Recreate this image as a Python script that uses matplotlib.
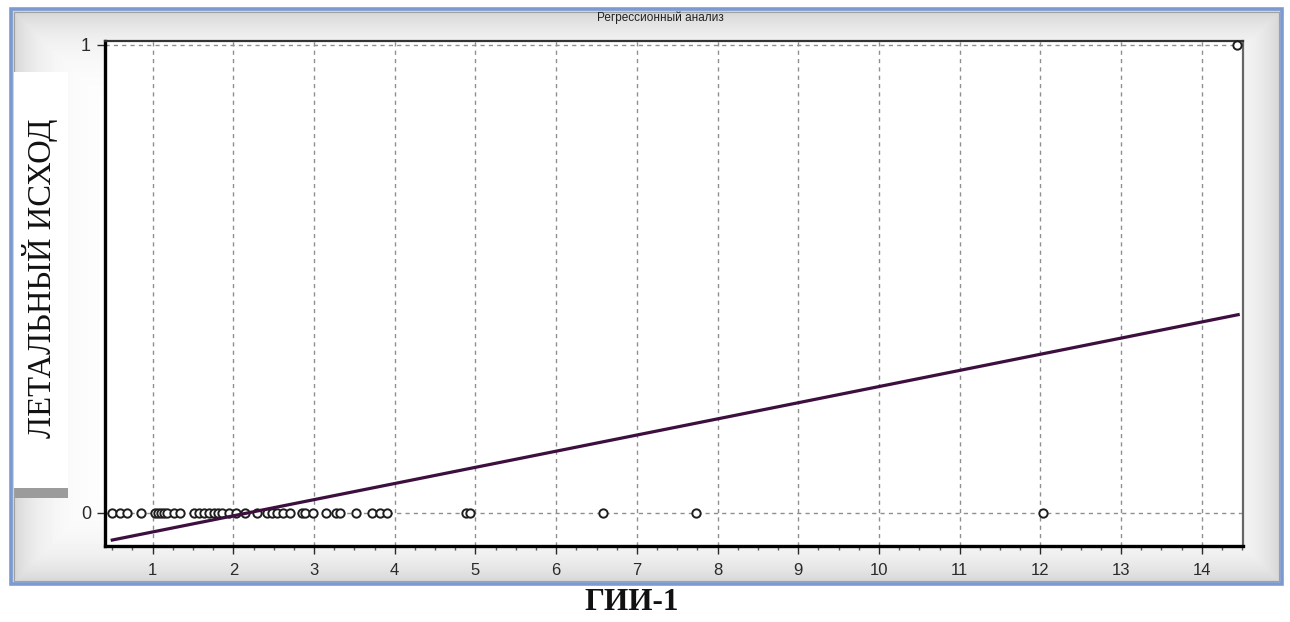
import numpy as np
import matplotlib
matplotlib.use("Agg")
import matplotlib.pyplot as plt
from matplotlib.patches import Rectangle
from matplotlib.ticker import MultipleLocator

# observations: ГИИ-1 value and outcome (0 = survived, 1 = lethal)
gii = [0.50, 0.59, 0.68, 0.86, 1.03, 1.07, 1.10, 1.14, 1.18, 1.26, 1.34,
       1.51, 1.57, 1.64, 1.70, 1.76, 1.81, 1.86, 1.95, 2.03, 2.14, 2.29,
       2.42, 2.48, 2.54, 2.61, 2.70, 2.85, 2.89, 2.99, 3.15, 3.27, 3.32,
       3.52, 3.72, 3.82, 3.90, 4.88, 4.93, 6.58, 7.73, 12.03, 14.44]
outcome = [0] * 42 + [1]

# fitted regression line
intercept = -0.075
slope = 0.0345
line_x = [0.5, 14.45]

W, H = 1290, 622
fig = plt.figure(figsize=(W / 100, H / 100), dpi=100)
fig.patch.set_facecolor("white")

# background panel with soft grey edges
bg = fig.add_axes([0, 0, 1, 1])
bg.set_xlim(0, W)
bg.set_ylim(H, 0)
bg.axis("off")
px0, py0, px1, py1 = 11, 9, 1282, 584
yy, xx = np.mgrid[py0:py1, px0:px1]
d = np.minimum.reduce([xx - px0, px1 - xx, yy - py0, py1 - yy]).astype(float)
shade = 1 - 0.18 * np.exp(-d / 28.0)
bg.imshow(shade, cmap="gray", vmin=0, vmax=1, extent=(px0, px1, py1, py0),
          aspect="auto", interpolation="bilinear")
bg.add_patch(Rectangle((px0, py0), px1 - px0, py1 - py0, fill=False,
                       edgecolor="#7c9ad2", lw=2.6))
bg.add_patch(Rectangle((px0 + 3, py0 + 3), px1 - px0 - 6, py1 - py0 - 6,
                       fill=False, edgecolor="#a0a0a0", lw=0.8))
# white strip behind the vertical label
bg.add_patch(Rectangle((14, 72), 54, 416, facecolor="white", edgecolor="none"))
bg.add_patch(Rectangle((15, 488), 53, 10, facecolor="#9b9b9b", edgecolor="none"))
bg.text(660, 18, "Регрессионный анализ", ha="center", va="center",
        fontsize=8.5, family="Liberation Sans", color="#222222")
bg.text(40, 278, "ЛЕТАЛЬНЫЙ ИСХОД", rotation=90, ha="center", va="center",
        fontsize=23.5, family="Liberation Serif", color="#111111")
bg.text(632, 603, "ГИИ-1", ha="center", va="center", fontsize=22.5,
        family="Liberation Serif", weight="bold", color="#111111")

# regression plot
ax = fig.add_axes([105 / W, 1 - 546 / H, (1243 - 105) / W, (546 - 41) / H])
ax.set_facecolor("white")
ax.set_xlim(0.41, 14.51)
ax.set_ylim(-0.0705, 1.008)

ax.scatter(gii, outcome, s=36, facecolors="white", edgecolors="#1e1e1e",
           linewidths=1.4, zorder=3, clip_on=False)
lx = np.array(line_x)
ax.plot(lx, intercept + slope * lx, color="#3d0f3f", lw=2.3, zorder=4)

ax.xaxis.set_major_locator(MultipleLocator(1))
ax.xaxis.set_minor_locator(MultipleLocator(0.25))
ax.set_yticks([0, 1])
ax.grid(True, which="major", color="#8f8f8f", linestyle=(0, (3, 3)), lw=1.0)
ax.set_axisbelow(True)

ax.tick_params(axis="x", which="major", length=6, width=1, pad=6,
               labelsize=12, colors="#2a2a2a")
ax.tick_params(axis="x", which="minor", length=3, width=1, colors="#555555")
ax.tick_params(axis="y", length=6, width=1, pad=4, labelsize=13,
               colors="#2a2a2a")
for lab in ax.get_xticklabels() + ax.get_yticklabels():
    lab.set_family("Liberation Sans")

ax.spines["left"].set_linewidth(2.4)
ax.spines["bottom"].set_linewidth(2.4)
ax.spines["top"].set_linewidth(1.6)
ax.spines["top"].set_color("#333333")
ax.spines["right"].set_linewidth(1.6)
ax.spines["right"].set_color("#666666")

fig.savefig("out.png", dpi=100, facecolor="white")
